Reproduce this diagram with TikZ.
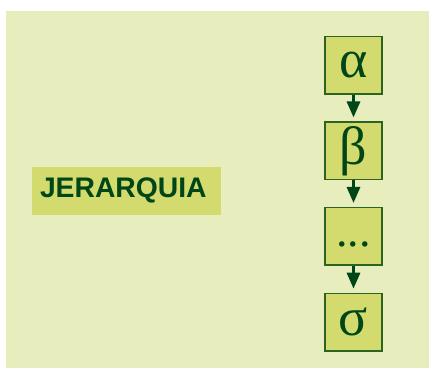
\documentclass[tikz,border=0pt]{standalone}
\usepackage{fontspec}
\setmainfont{Liberation Serif}
\newfontfamily\arialfont{Liberation Sans}
\usetikzlibrary{arrows.meta}
\definecolor{bgcol}{HTML}{E8EDBE}
\definecolor{boxcol}{HTML}{D4DB6E}
\definecolor{dkgreen}{HTML}{004616}
\definecolor{bordercol}{HTML}{2A6420}
\tikzset{
  greekbox/.style={draw=bordercol, line width=1.5pt, fill=boxcol, minimum width=57pt, minimum height=57.5pt, inner sep=0pt, text=dkgreen, font=\fontsize{54}{58}\selectfont},
  titlebox/.style={fill=boxcol, minimum height=47.7pt, text width=173pt, inner xsep=8pt, inner ysep=0pt, align=left, text=dkgreen, font=\arialfont\bfseries\fontsize{28.3}{32}\selectfont},
  conn/.style={draw=dkgreen, line width=3pt, -{Triangle[length=16pt,width=13pt]}, shorten >=4pt}
}
\begin{document}
\begin{tikzpicture}[x=1pt,y=1pt]
\useasboundingbox (0,0) rectangle (429,369);
\fill[bgcol] (6,1) rectangle (429,358);
\node[titlebox] (t) at (126.5,178.1) {JERARQUIA};
\node[greekbox] (a) at (353.5,303.5) {α};
\node[greekbox] (b) at (353.5,218) {β};
\node[greekbox] (c) at (353.5,132.5) {\fontsize{46}{50}\selectfont\raisebox{-10pt}[0pt][0pt]{...}};
\node[greekbox] (d) at (353.5,46.8) {σ};
\draw[conn] (a) -- (b);
\draw[conn] (b) -- (c);
\draw[conn] (c) -- (d);
\end{tikzpicture}
\end{document}
